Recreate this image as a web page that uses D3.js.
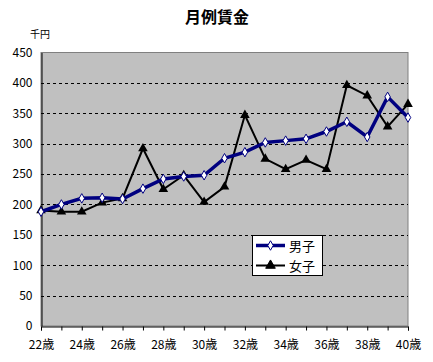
<!DOCTYPE html>
<html>
<head>
<meta charset="utf-8">
<script src="https://cdn.jsdelivr.net/npm/d3@7"></script>
<style>
  body { margin: 0; background: #fff; }
  text { font-family: "Noto Sans CJK JP", sans-serif; }
</style>
</head>
<body>
<div id="chart"></div>
<script>
const ages = ['22歳', '23歳', '24歳', '25歳', '26歳', '27歳', '28歳', '29歳', '30歳', '31歳',
  '32歳', '33歳', '34歳', '35歳', '36歳', '37歳', '38歳', '39歳', '40歳']
const male = [188, 200, 210, 211, 209, 226, 242, 246, 248, 276, 286, 302, 305, 308, 320, 336, 311, 377, 343]
const female = [190, 188, 188, 203, 210, 292, 225, 248, 204, 229, 347, 275, 258, 273, 258, 396, 379, 328, 365]
const yTicks = [0, 50, 100, 150, 200, 250, 300, 350, 400, 450]

const width = 433
const height = 362
const margin = { top: 52.5, right: 25, bottom: 36, left: 41 }

const svg = d3.select('#chart').append('svg')
  .attr('width', width)
  .attr('height', height)

const x = d3.scalePoint().domain(ages).range([margin.left, width - margin.right])
const y = d3.scaleLinear().domain([0, 450]).range([height - margin.bottom, margin.top])

// plot area
svg.append('rect')
  .attr('x', margin.left)
  .attr('y', margin.top)
  .attr('width', width - margin.right - margin.left)
  .attr('height', y(0) - margin.top)
  .attr('fill', '#c0c0c0')
  .attr('stroke', '#808080')

// gridlines
svg.append('g')
  .selectAll('line')
  .data(yTicks.filter(d => d > 0 && d < 450))
  .join('line')
  .attr('x1', margin.left)
  .attr('x2', width - margin.right)
  .attr('y1', d => Math.round(y(d)) + 0.5)
  .attr('y2', d => Math.round(y(d)) + 0.5)
  .attr('stroke', '#000')
  .attr('stroke-dasharray', '3,3')

// axes
const xAxis = svg.append('g')
  .attr('transform', `translate(0,${Math.round(y(0)) + 0.5})`)
  .call(d3.axisBottom(x).tickSize(4).tickFormat((d, i) => i % 2 === 0 ? d : ''))
xAxis.select('.domain').attr('stroke', '#000')
xAxis.selectAll('text')
  .attr('dy', 0)
  .attr('y', 22)
  .attr('font-size', 12)
  .attr('fill', '#000')

const yAxis = svg.append('g')
  .attr('transform', `translate(${margin.left + 0.5},0)`)
  .call(d3.axisLeft(y).tickValues(yTicks).tickSize(0).tickPadding(9))
yAxis.select('.domain').attr('stroke', '#000')
yAxis.selectAll('text')
  .attr('font-size', 12)
  .attr('fill', '#000')

// title & unit
svg.append('text')
  .attr('x', 217)
  .attr('y', 23)
  .attr('text-anchor', 'middle')
  .attr('font-size', 16)
  .attr('font-weight', 'bold')
  .text('月例賃金')

svg.append('text')
  .attr('x', 30)
  .attr('y', 38)
  .attr('font-size', 10)
  .text('千円')

const line = d3.line()
  .x((d, i) => x(ages[i]))
  .y(d => y(d))

const diamond = d3.symbol().type(d3.symbolDiamond).size(26)
const triangle = d3.symbol().type(d3.symbolTriangle).size(40)

// female
svg.append('path')
  .datum(female)
  .attr('d', line)
  .attr('fill', 'none')
  .attr('stroke', '#000')
  .attr('stroke-width', 2)
svg.append('g')
  .selectAll('path')
  .data(female)
  .join('path')
  .attr('d', triangle)
  .attr('transform', (d, i) => `translate(${x(ages[i])},${y(d)})`)
  .attr('fill', '#000')

// male
svg.append('path')
  .datum(male)
  .attr('d', line)
  .attr('fill', 'none')
  .attr('stroke', '#000080')
  .attr('stroke-width', 3.5)
svg.append('g')
  .selectAll('path')
  .data(male)
  .join('path')
  .attr('d', diamond)
  .attr('transform', (d, i) => `translate(${x(ages[i])},${y(d)})`)
  .attr('fill', '#fff')
  .attr('stroke', '#000080')
  .attr('stroke-width', 1)

// legend
const legend = svg.append('g').attr('transform', 'translate(252,235)')
legend.append('rect')
  .attr('x', 0.5)
  .attr('y', 0.5)
  .attr('width', 70)
  .attr('height', 40)
  .attr('fill', '#fff')
  .attr('stroke', '#000')

const items = [
  { name: '男子', color: '#000080', w: 3.5, sym: diamond, fill: '#fff' },
  { name: '女子', color: '#000', w: 2, sym: triangle, fill: '#000' }
]
items.forEach((it, i) => {
  const cy = 10.5 + i * 20
  legend.append('line')
    .attr('x1', 4).attr('x2', 33)
    .attr('y1', cy).attr('y2', cy)
    .attr('stroke', it.color)
    .attr('stroke-width', it.w)
  legend.append('path')
    .attr('d', it.sym)
    .attr('transform', `translate(18.5,${cy})`)
    .attr('fill', it.fill)
    .attr('stroke', it.color)
    .attr('stroke-width', 1)
  legend.append('text')
    .attr('x', 37)
    .attr('y', cy + 5)
    .attr('font-size', 13)
    .text(it.name)
})
</script>
</body>
</html>
